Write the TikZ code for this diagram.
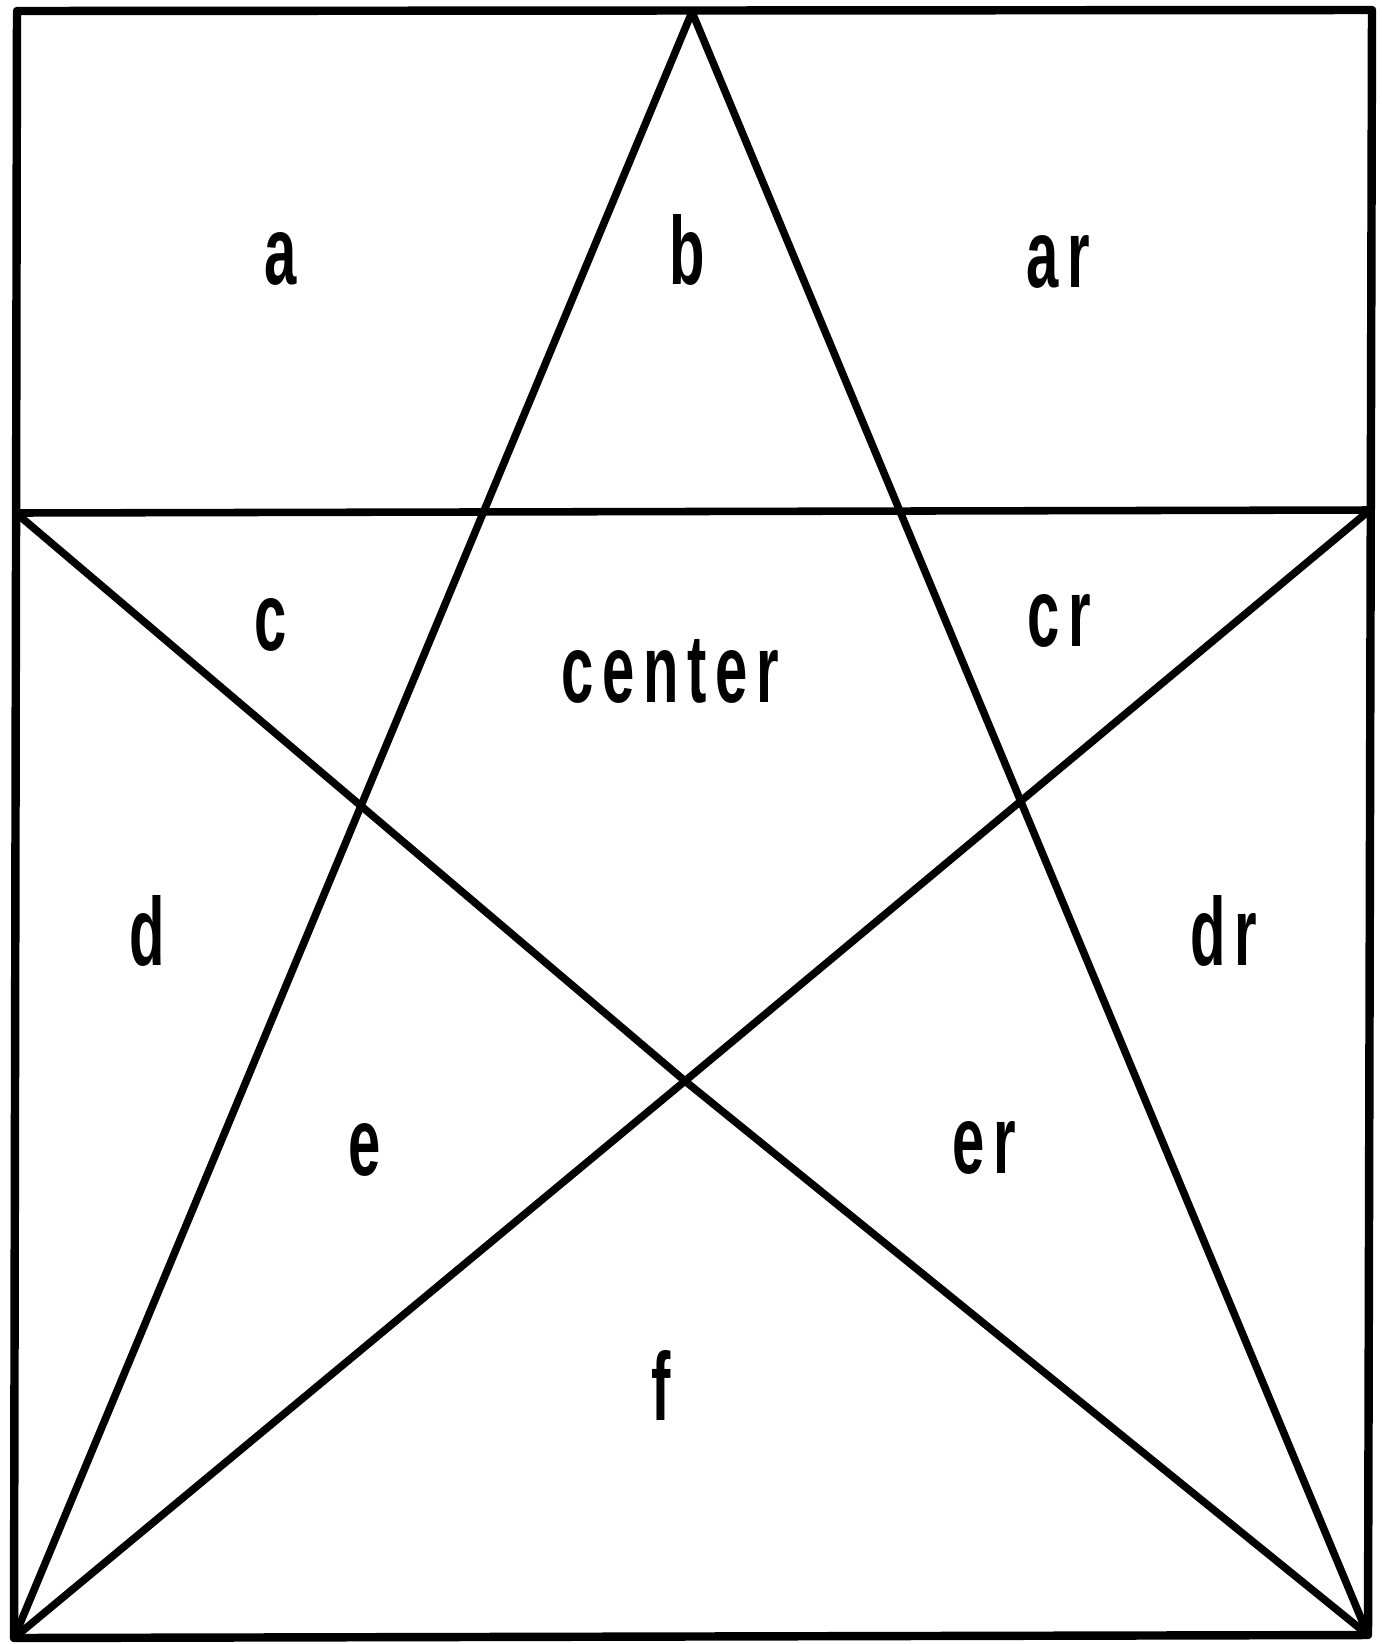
\documentclass[tikz,border=0pt]{standalone}
\usepackage{fontspec}
\newfontfamily\regionfont[FakeStretch=0.6,LetterSpace=9]{Liberation Sans}
\usepackage{tikz}
\usetikzlibrary{calc}

\begin{document}
\begin{tikzpicture}[x=0.02cm, y=-0.02cm, line join=round, line cap=round,
    edge/.style={line width=4.3pt},
    frame/.style={line width=4.8pt},
    region/.style={anchor=base, inner sep=0pt, font=\regionfont\bfseries\fontsize{55}{60}\selectfont}]
\useasboundingbox (0,0) rectangle (1382,1644);
% Frame and corner points
\coordinate (tl) at (17,11);
\coordinate (tr) at (1372,10);
\coordinate (br) at (1368,1635);
\coordinate (bl) at (14,1638);
\coordinate (ml) at (16,513);
\coordinate (mr) at (1370,510);
\coordinate (apex) at (692,12);
\coordinate (cross) at (685,1081);
\draw[frame] (tl) -- (tr) -- (br) -- (bl) -- cycle;
\draw[edge] (ml) -- (mr);
% Star lines
\draw[edge] (apex) -- (bl);
\draw[edge] (apex) -- (br);
\draw[edge] (ml) -- (cross) -- (br);
\draw[edge] (mr) -- (cross) -- (bl);
% Region labels
\foreach \nm/\txt/\x/\y in {a/a/281/284, b/b/687/284, ar/ar/1058/287,
    c/c/271/650, center/center/670/702, cr/cr/1059/646,
    d/d/147/965, dr/dr/1224/965,
    e/e/365/1175, er/er/984/1173, f/f/661/1420} {
    \node[region] (lbl-\nm) at (\x,\y) {\txt};
}
\end{tikzpicture}
\end{document}
